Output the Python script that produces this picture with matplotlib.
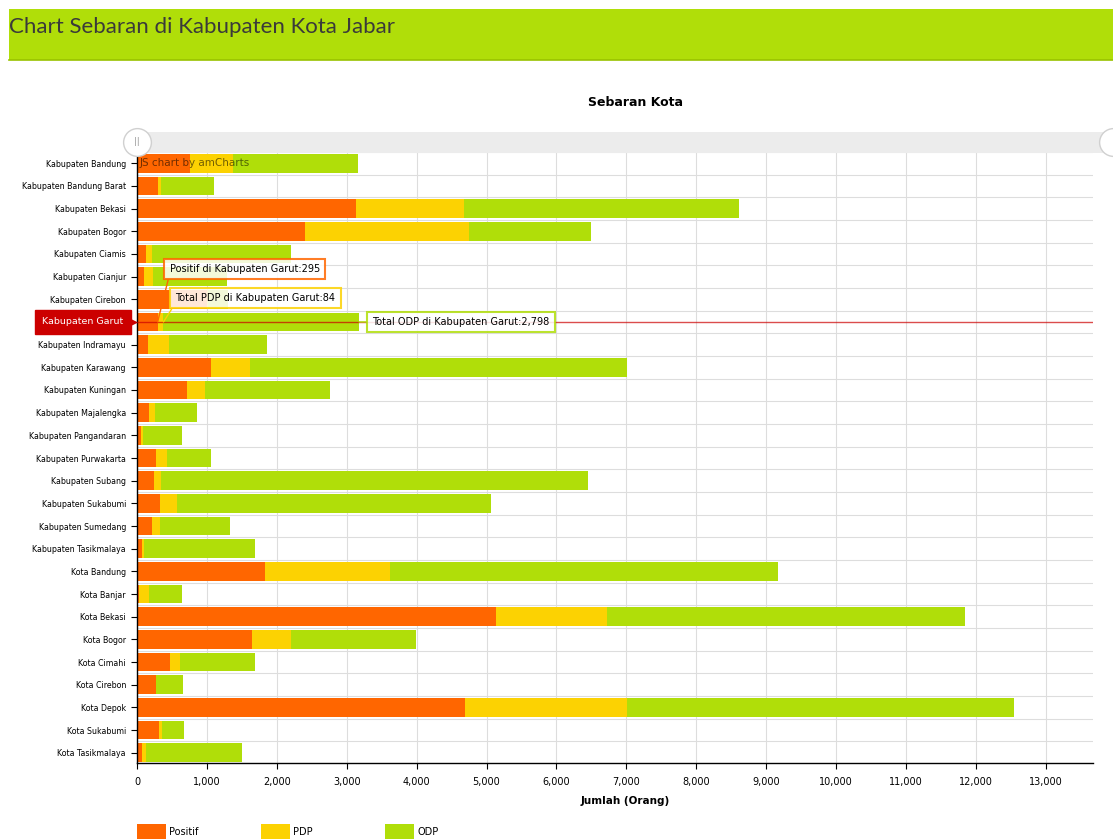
import matplotlib
matplotlib.use("Agg")
import matplotlib.pyplot as plt
from matplotlib.patches import Rectangle
from matplotlib.lines import Line2D
from matplotlib.ticker import FuncFormatter, MultipleLocator
import numpy as np

categories = [
    "Kabupaten Bandung", "Kabupaten Bandung Barat", "Kabupaten Bekasi", "Kabupaten Bogor",
    "Kabupaten Ciamis", "Kabupaten Cianjur", "Kabupaten Cirebon", "Kabupaten Garut",
    "Kabupaten Indramayu", "Kabupaten Karawang", "Kabupaten Kuningan", "Kabupaten Majalengka",
    "Kabupaten Pangandaran", "Kabupaten Purwakarta", "Kabupaten Subang", "Kabupaten Sukabumi",
    "Kabupaten Sumedang", "Kabupaten Tasikmalaya", "Kota Bandung", "Kota Banjar",
    "Kota Bekasi", "Kota Bogor", "Kota Cimahi", "Kota Cirebon", "Kota Depok",
    "Kota Sukabumi", "Kota Tasikmalaya",
]
positif = [758, 305, 3133, 2403, 124, 100, 1000, 295, 157, 1054, 715, 172, 57, 272, 243, 325,
           219, 72, 1827, 33, 5136, 1650, 476, 272, 4692, 315, 72]
pdp = [611, 38, 1545, 2347, 86, 133, 10, 84, 296, 563, 262, 86, 24, 157, 100, 247,
       106, 24, 1792, 139, 1588, 553, 139, 5, 2318, 43, 52]
odp = [1788, 758, 3934, 1745, 1989, 1055, 292, 2798, 1402, 5393, 1784, 605, 567, 625, 6109, 4492,
       1005, 1592, 5551, 467, 5121, 1788, 1073, 382, 5536, 310, 1374]
series_names = ["Positif", "PDP", "ODP"]
series_colors = ["#ff6600", "#fcd202", "#b0de09"]
selected = "Kabupaten Garut"

W, H = 1113, 839
fig = plt.figure(figsize=(W / 100, H / 100), dpi=100)
fig.patch.set_facecolor("white")

# Header band
fig.add_artist(Rectangle((9 / W, 1 - 60 / H), 1 - 9 / W, 51 / H, transform=fig.transFigure,
                         facecolor="#b0de09", edgecolor="none", zorder=0))
fig.add_artist(Line2D([9 / W, 1], [1 - 60 / H, 1 - 60 / H], transform=fig.transFigure,
                      color="#99c200", lw=1.2, zorder=1))
fig.text(9 / W, 1 - 27 / H, "Chart Sebaran di Kabupaten Kota Jabar", family="Lato",
         fontsize=16, color="#3a3a3a", va="center", ha="left", zorder=5)

# Chart title
fig.text(635 / W, 1 - 103 / H, "Sebaran Kota", fontsize=9, fontweight="bold",
         ha="center", va="center", color="#000000")

# Scrollbar
fig.add_artist(Rectangle((137 / W, 1 - 153 / H), 1 - 137 / W, 21 / H, transform=fig.transFigure,
                         facecolor="#ececec", edgecolor="none", zorder=1))
for hx in (137, 1113):
    fig.add_artist(Line2D([hx / W], [1 - 142 / H], transform=fig.transFigure, marker="o",
                          markersize=20, markerfacecolor="white", markeredgecolor="#d0d0d0",
                          markeredgewidth=1, zorder=3))
fig.text(137 / W, 1 - 142 / H, "||", fontsize=6, color="#999999", ha="center", va="center",
         zorder=4)

ax = fig.add_axes([137 / W, 76 / H, (1092.7 - 137) / W, (763 - 153) / H])
n = len(categories)
y = np.arange(n)
left = np.zeros(n)
for vals, name, col in zip([positif, pdp, odp], series_names, series_colors):
    ax.barh(y, vals, left=left, height=0.82, color=col, label=name, zorder=2, linewidth=0)
    left = left + np.array(vals)

gi = categories.index(selected)
ax.set_ylim(n - 0.55, -0.45)
ax.set_xlim(0, 13670)
ax.set_yticks(y)
ax.set_yticklabels(categories, fontsize=5.7, color="#000000")
ax.get_yticklabels()[gi].set_visible(False)
ax.xaxis.set_major_locator(MultipleLocator(1000))
ax.xaxis.set_major_formatter(FuncFormatter(lambda v, p: f"{int(v):,}"))
ax.tick_params(axis="x", labelsize=7, length=4, width=0.8, colors="#000000", pad=6)
ax.tick_params(axis="y", length=4, width=0.8, colors="#000000", pad=4)
for s in ("top", "right"):
    ax.spines[s].set_visible(False)
for s in ("left", "bottom"):
    ax.spines[s].set_color("#000000")
    ax.spines[s].set_linewidth(1)
ax.grid(axis="x", color="#dddddd", lw=0.8, zorder=0)
for b in np.arange(n + 1) - 0.5:
    ax.axhline(b, color="#dddddd", lw=0.8, zorder=0)
ax.set_axisbelow(True)

fig.text(625 / W, 1 - 801 / H, "Jumlah (Orang)", fontsize=7.5, fontweight="bold",
         ha="center", va="center")

# Watermark
ax.text(0.003, 0, "JS chart by amCharts", transform=ax.get_yaxis_transform(),
        fontsize=7.5, color="#000000", alpha=0.55, va="center", ha="left", zorder=5)

# Cursor on selected category
ax.axhline(gi, color="#cc0000", lw=1, alpha=0.7, zorder=6)
ax.text(-0.014, gi, selected, transform=ax.get_yaxis_transform(), fontsize=6.8,
        color="white", ha="right", va="center", zorder=7, clip_on=False,
        bbox=dict(boxstyle="square,pad=0.75", fc="#cc0000", ec="#cc0000"))
ax.plot([-0.0055], [gi], transform=ax.get_yaxis_transform(), marker=">", markersize=6,
        color="#cc0000", clip_on=False, zorder=7, linestyle="none")

# Balloons
g_pos = positif[gi]
g_pdp = pdp[gi]
g_odp = odp[gi]
tips = [
    (f"Positif di Kabupaten Garut:{g_pos:,}", g_pos, (12, 53), series_colors[0], (0, 0)),
    (f"Total PDP di Kabupaten Garut:{g_pdp:,}", g_pos + g_pdp, (12, 24), series_colors[1], (0, 0)),
    (f"Total ODP di Kabupaten Garut:{g_odp:,}", g_pos + g_pdp + g_odp, (13, 0), series_colors[2], (0, 0.5)),
]
for txt, xv, off, col, rp in tips:
    ax.annotate(txt, xy=(xv, gi), xytext=off, textcoords="offset pixels", fontsize=7,
                ha="left", va="center", zorder=8, annotation_clip=False,
                bbox=dict(boxstyle="square,pad=0.55", fc="white", ec=col, lw=1.5, alpha=0.85),
                arrowprops=dict(arrowstyle="-", color=col, lw=1, shrinkA=0, shrinkB=0,
                                relpos=rp))

# Legend
for i, (name, col) in enumerate(zip(series_names, series_colors)):
    x0 = 137 + 124 * i
    fig.add_artist(Rectangle((x0 / W, 0), 29 / W, 15 / H, transform=fig.transFigure,
                             facecolor=col, edgecolor="none"))
    fig.text((x0 + 32) / W, 1 - 832 / H, name, fontsize=7, ha="left", va="center")

fig.savefig("out.png", dpi=100)
